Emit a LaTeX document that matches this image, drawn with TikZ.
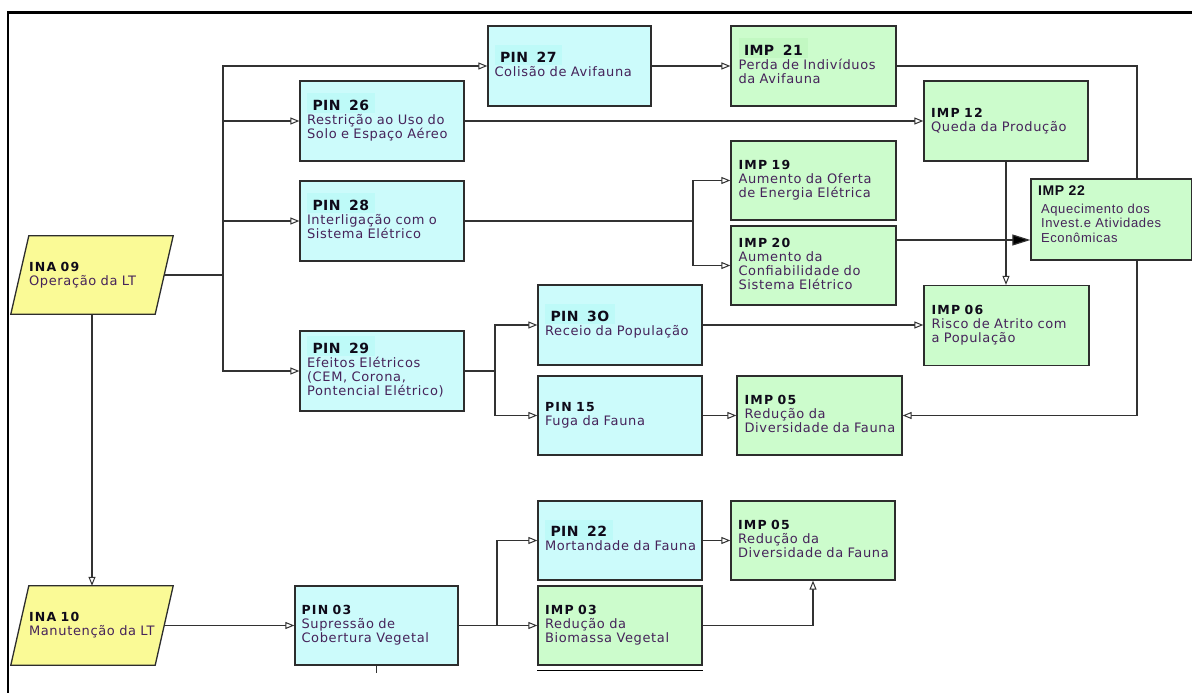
\documentclass[tikz,border=0pt]{standalone}
\usepackage{fontspec}
\usetikzlibrary{arrows.meta,calc}
\newfontfamily\bodyfont{DejaVu Sans}[LetterSpace=5]
\newfontfamily\ttlfont{DejaVu Sans}[LetterSpace=10]
\newfontfamily\hlfont{DejaVu Sans}[LetterSpace=3]
\newfontfamily\arialfont{Liberation Sans}[LetterSpace=5]
\setlength\fboxsep{0pt}
\hfuzz=30pt

\definecolor{pinfill}{RGB}{204,251,251}
\definecolor{pinhl}{RGB}{190,250,248}
\definecolor{impfill}{RGB}{204,252,204}
\definecolor{imphl}{RGB}{194,248,194}
\definecolor{inafill}{RGB}{250,250,150}
\definecolor{boxline}{RGB}{45,45,45}
\definecolor{linecol}{RGB}{50,50,50}
\definecolor{bodytext}{RGB}{70,35,90}
\definecolor{titlecol}{RGB}{15,10,25}

% text settings shared by the boxes
\newcommand\bodyset{\bodyfont\fontsize{13}{14}\selectfont\lineskiplimit=-20pt\relax\color{bodytext}}
\newcommand\arialset{\arialfont\fontsize{13}{14.5}\selectfont\lineskiplimit=-20pt\relax\color{bodytext}}
% plain bold title
\newcommand\ttl[1]{{\ttlfont\bfseries\fontsize{12.5}{14}\selectfont\color{titlecol}\rule{0pt}{9.5pt}#1}}
% bold title on a tinted band
\newcommand\hlttl[2]{\smash{\colorbox{#1}{\hspace{5.5pt}\rule[-3pt]{0pt}{20pt}\hlfont\bfseries\fontsize{14}{14}\selectfont\color{titlecol}#2\hspace{5.5pt}}}\rule{0pt}{9.5pt}}

\pgfdeclarelayer{paper}
\pgfdeclarelayer{lines}
\pgfdeclarelayer{shapes}
\pgfsetlayers{paper,lines,shapes,main}

\begin{document}
\begin{tikzpicture}[x=1pt,y=-1pt,
  box/.style={draw=boxline, line width=1.3pt, inner xsep=6.5pt, inner ysep=0pt,
    text width=150pt, align=left, minimum width=164pt, minimum height=80pt,
    font=\bodyset, execute at end node={\rule[-3pt]{0pt}{3pt}}},
  pin/.style={box, fill=pinfill},
  imp/.style={box, fill=impfill},
  ina/.style={inner xsep=18pt, inner ysep=0pt, text width=126pt, align=left,
    minimum width=162pt, minimum height=78pt,
    font=\bodyset, execute at end node={\rule[-3pt]{0pt}{3pt}}},
  inashape/.style={fill=inafill, draw=boxline, line width=1.3pt},
  link/.style={draw=linecol, line width=1.2pt},
  arr/.style={link, -{Triangle[length=9pt, width=7pt, fill=white, line width=1pt]}},
  big/.style={link, -{Triangle[length=18pt, width=11pt, fill=black]}}]

\useasboundingbox (0,0) rectangle (1192,693);
\begin{pgfonlayer}{paper}
  \fill[white] (0,0) rectangle (1192,693);
\end{pgfonlayer}

% ---- boxes ----
\node[ina] (ina09) at (92,275) {\ttl{INA 09}\\Operação da LT};
\node[ina, minimum height=79pt] (ina10) at (92,625.5) {\ttl{INA 10}\\\mbox{Manutenção da LT}};

\node[pin, minimum width=163pt] (pin27) at (569.5,66) {\hlttl{pinhl}{PIN\ \ 27}\\\mbox{Colisão de Avifauna}};
\node[imp, minimum width=165pt] (imp21) at (813.5,66) {\hlttl{imphl}{IMP\ \ 21}\\\mbox{Perda de Indivíduos}\\da Avifauna};
\node[pin] (pin26) at (382,121) {\hlttl{pinhl}{PIN\ \ 26}\\\mbox{Restrição ao Uso do}\\\mbox{Solo e Espaço Aéreo}};
\node[imp] (imp12) at (1006,121) {\ttl{IMP 12}\\\mbox{Queda da Produção}};
\node[pin] (pin28) at (382,221) {\hlttl{pinhl}{PIN\ \ 28}\\\mbox{Interligação com o}\\Sistema Elétrico};
\node[imp, minimum width=165pt, minimum height=79pt] (imp19) at (813.5,180.5) {\ttl{IMP 19}\\\mbox{Aumento da Oferta}\\\mbox{de Energia Elétrica}};
\node[imp, minimum width=165pt, minimum height=79pt] (imp20) at (813.5,265.5) {\ttl{IMP 20}\\Aumento da\\\mbox{Confiabilidade do}\\Sistema Elétrico};
\node[imp, minimum width=161pt, minimum height=81pt, inner xsep=7pt, text width=147pt,
  font=\arialset] (imp22) at (1111.5,219.5)
  {{\arialfont\bfseries\fontsize{14}{14}\selectfont\color{titlecol}\rule{0pt}{10pt}IMP 22}\\[3.5pt]
   \hspace*{3pt}Aquecimento dos\\\hspace*{3pt}\mbox{Invest.e Atividades}\\\hspace*{3pt}Econômicas\rule[-12pt]{0pt}{0pt}};
\node[pin] (pin29) at (382,371) {\hlttl{pinhl}{PIN\ \ 29}\\Efeitos Elétricos\\(CEM, Corona,\\\mbox{Pontencial Elétrico)}};
\node[pin] (pin30) at (620,325) {\hlttl{pinhl}{PIN\ \ 3O}\\\mbox{Receio da População}};
\node[imp, minimum width=165pt] (imp06) at (1006.5,325.5) {\ttl{IMP 06}\\\mbox{Risco de Atrito com}\\a População};
\node[pin, minimum height=79pt] (pin15) at (620,415.5) {\ttl{PIN 15}\\Fuga da Fauna};
\node[imp, minimum width=165pt, minimum height=79pt] (imp05a) at (819.5,415.5) {\ttl{IMP 05}\\Redução da\\\mbox{Diversidade da Fauna}};

\node[pin, minimum width=163pt, minimum height=79pt] (pin03) at (376.5,625.5) {\ttl{PIN 03}\\Supressão de\\\mbox{Cobertura Vegetal}};
\node[pin, minimum height=79pt] (pin22) at (620,540.5) {\hlttl{pinhl}{PIN\ \ 22}\\\mbox{Mortandade da Fauna}};
\node[imp, minimum height=79pt] (imp03) at (620,625.5) {\ttl{IMP 03}\\Redução da\\\mbox{Biomassa Vegetal}};
\node[imp, minimum height=79pt] (imp05b) at (813,540.5) {\ttl{IMP 05}\\Redução da\\\mbox{Diversidade da Fauna}};

% ---- slanted input shapes ----
\begin{pgfonlayer}{shapes}
  \foreach \n in {ina09,ina10}
    \draw[inashape] ($(\n.north west)+(18,0)$) -- (\n.north east)
      -- ($(\n.south east)+(-18,0)$) -- (\n.south west) -- cycle;
\end{pgfonlayer}

% ---- junction points ----
\coordinate (t1) at (223,275);
\coordinate (t2) at (693,221);
\coordinate (t3) at (495,371);
\coordinate (t4) at (497,625.5);
\coordinate (c1) at (1137,66);
\coordinate (j22) at ($(imp22.west)+(0,20.5)$);

% ---- connectors ----
\begin{pgfonlayer}{lines}
  \draw[link] ($(ina09.east)+(-9,0)$) -- (t1);
  \draw[arr] (t1) |- (pin27.west);
  \draw[arr] (t1) |- (pin26.west);
  \draw[arr] (t1) |- (pin28.west);
  \draw[arr] (t1) |- (pin29.west);
  \draw[arr] (ina09.south) -- (ina10.north);

  \draw[arr] (pin27.east) -- (imp21.west);
  \draw[arr] (pin26.east) -- (imp12.west);
  \draw[link] (pin28.east) -- (t2);
  \draw[arr] (t2) |- (imp19.west);
  \draw[arr] (t2) |- (imp20.west);
  \draw[big] (imp20.east |- j22) -- (j22);
  \draw[arr] (imp12.south) -- (imp12.south |- imp06.north);
  \draw[arr] (imp21.east) -- (c1) |- (imp05a.east);

  \draw[link] (pin29.east) -- (t3);
  \draw[arr] (t3) |- (pin30.west);
  \draw[arr] (t3) |- (pin15.west);
  \draw[arr] (pin30.east) -- (pin30.east -| imp06.west);
  \draw[arr] (pin15.east) -- (imp05a.west);

  \draw[arr] ($(ina10.east)+(-9,0)$) -- (pin03.west);
  \draw[link] (pin03.east) -- (t4);
  \draw[arr] (t4) |- (pin22.west);
  \draw[arr] (t4) -- (imp03.west);
  \draw[arr] (pin22.east) -- (imp05b.west);
  \draw[arr] (imp03.east) -| (imp05b.south);

  \draw[link] (pin03.south) -- ++(0,7);
  \draw[line width=1.5pt] ($(imp03.south west)+(0,5)$) -- ($(imp03.south east)+(0,5)$);
\end{pgfonlayer}

% ---- outer frame ----
\draw[line width=2.2pt] (8,693) -- (8,12.5) -- (1192,12.5);
\end{tikzpicture}
\end{document}
